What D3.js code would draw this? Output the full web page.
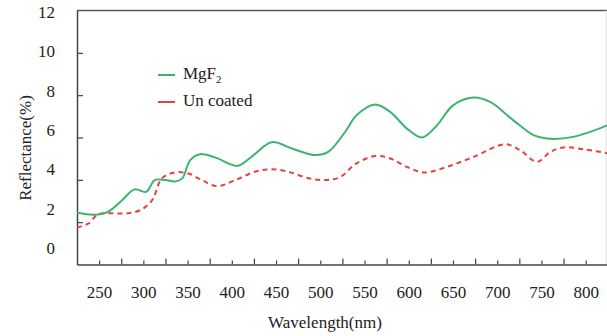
<!DOCTYPE html>
<html>
<head>
<meta charset="utf-8">
<script src="https://cdn.jsdelivr.net/npm/d3@7"></script>
<style>
  body { margin: 0; background: #fff; }
</style>
</head>
<body>
<svg id="chart" width="607" height="336"></svg>
<script>
// wavelength (nm) and reflectance (%)
const mgf2Wave = [225, 245, 260, 276, 290, 303, 313, 325, 336, 344, 353, 364, 381, 406, 422, 445, 468, 494, 509, 528, 541, 562, 579, 598, 615, 632, 650, 673, 692, 718, 741, 756, 786, 825];
const mgf2Refl = [2.44, 2.35, 2.49, 3.04, 3.55, 3.43, 3.99, 3.99, 3.92, 4.07, 4.93, 5.21, 5.06, 4.66, 5.08, 5.78, 5.48, 5.17, 5.32, 6.26, 7.05, 7.56, 7.21, 6.42, 6.0, 6.58, 7.52, 7.89, 7.68, 6.82, 6.11, 5.95, 6.03, 6.58];

const uncWave = [225, 238, 249, 264, 283, 298, 310, 321, 336, 351, 366, 383, 404, 426, 445, 464, 487, 505, 522, 540, 562, 579, 598, 618, 643, 673, 709, 726, 745, 760, 775, 797, 825];
const uncRefl = [1.75, 1.94, 2.38, 2.42, 2.42, 2.6, 3.04, 4.07, 4.35, 4.3, 3.99, 3.7, 3.99, 4.38, 4.5, 4.38, 4.07, 3.99, 4.12, 4.75, 5.13, 5.01, 4.61, 4.35, 4.61, 5.08, 5.68, 5.4, 4.85, 5.32, 5.53, 5.45, 5.25];

const xTicks = [250, 300, 350, 400, 450, 500, 550, 600, 650, 700, 750, 800];
const yTicks = [0, 2, 4, 6, 8, 10, 12];

const font = "Liberation Serif";
const ink = "#222";

const svg = d3.select("#chart").attr("font-family", font);
const plotL = 77, plotR = 607.8, plotT = 10.5, plotB = 264.5;

const x = d3.scaleLinear().domain([225, 825]).range([plotL, plotR]);
const y = d3.scaleLinear().domain([0, 12]).range([plotB, plotT]);
// the tick labels in the source sit a little off their tick marks
const yLab = d3.scaleLinear().domain([0, 12]).range([248, 12]);

svg.append("defs").append("clipPath").attr("id", "clip")
  .append("rect").attr("x", plotL).attr("y", 0).attr("width", 607 - plotL).attr("height", plotB);

// frame top / right
svg.append("line").attr("x1", plotL).attr("x2", 607).attr("y1", plotT).attr("y2", plotT)
  .attr("stroke", "#555").attr("stroke-width", 1.5);
svg.append("line").attr("x1", 606).attr("x2", 606).attr("y1", plotT).attr("y2", plotB)
  .attr("stroke", "#ddd").attr("stroke-width", 1);

// x axis, ticks every 25 nm pointing inward
const gx = svg.append("g").attr("transform", `translate(0,${plotB})`)
  .call(d3.axisBottom(x)
    .tickValues(d3.range(250, 826, 25))
    .tickSizeInner(-5).tickSizeOuter(0)
    .tickFormat(d => xTicks.includes(d) ? d : ""))
  .attr("font-family", font).attr("font-size", 17);
gx.select(".domain").attr("stroke", "#444").attr("stroke-width", 1.5);
gx.selectAll(".tick line").attr("stroke", "#444").attr("stroke-width", 1.2)
  .attr("y2", d => (d % 50 === 0 ? -4 : -6));
gx.selectAll(".tick text").attr("y", 33).attr("dy", 0).attr("fill", ink);

// y axis
const gy = svg.append("g").attr("transform", `translate(${plotL},0)`)
  .call(d3.axisLeft(y).tickValues(yTicks).tickSizeInner(-6).tickSizeOuter(0).tickPadding(22))
  .attr("font-family", font).attr("font-size", 17);
gy.select(".domain").attr("stroke", "#444").attr("stroke-width", 1.5);
gy.selectAll(".tick line").attr("stroke", "#444").attr("stroke-width", 1.2)
  .attr("opacity", d => (d === 0 || d === 12) ? 0 : 1);
gy.selectAll(".tick text").attr("y", d => yLab(d) - y(d)).attr("fill", ink);

// axis titles
svg.append("text").attr("x", 325).attr("y", 328).attr("text-anchor", "middle")
  .attr("font-size", 17).attr("fill", ink).text("Wavelength(nm)");
svg.append("text").attr("transform", "translate(31,148) rotate(-90)").attr("text-anchor", "middle")
  .attr("font-size", 17).attr("fill", ink).text("Reflectance(%)");

// curves
const line = d3.line().x(d => x(d[0])).y(d => y(d[1])).curve(d3.curveCatmullRom.alpha(0.5));
const plot = svg.append("g").attr("clip-path", "url(#clip)");

plot.append("path").datum(d3.zip(uncWave, uncRefl))
  .attr("d", line).attr("fill", "none")
  .attr("stroke", "#e8423f").attr("stroke-width", 2).attr("stroke-dasharray", "5,4");

plot.append("path").datum(d3.zip(mgf2Wave, mgf2Refl))
  .attr("d", line).attr("fill", "none")
  .attr("stroke", "#3db46d").attr("stroke-width", 2);

// legend
const lg = svg.append("g").attr("font-size", 17).attr("fill", ink);
lg.append("line").attr("x1", 158).attr("x2", 175).attr("y1", 75).attr("y2", 75)
  .attr("stroke", "#3db46d").attr("stroke-width", 2);
const t1 = lg.append("text").attr("x", 183).attr("y", 79);
t1.append("tspan").text("MgF");
t1.append("tspan").attr("dy", 4).attr("font-size", 11).text("2");
lg.append("line").attr("x1", 158).attr("x2", 175).attr("y1", 102).attr("y2", 102)
  .attr("stroke", "#e8423f").attr("stroke-width", 2);
lg.append("text").attr("x", 183).attr("y", 106).text("Un coated");
</script>
</body>
</html>
